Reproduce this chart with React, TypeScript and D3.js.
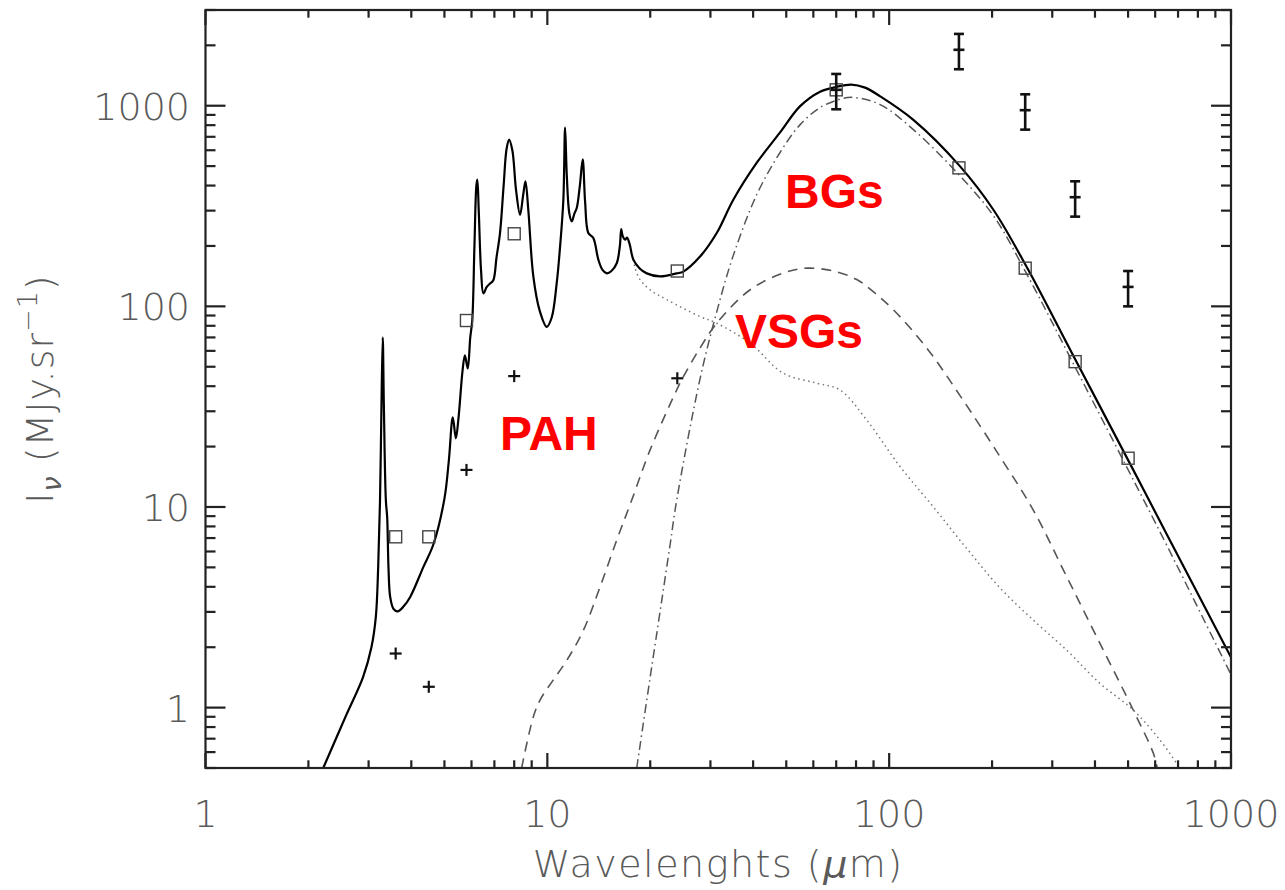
import React from "react";
import * as d3 from "d3";

// Spectral energy distribution: total model, its three dust components,
// synthetic in-band model values and observed photometry.

const totalLambda = [2.21, 2.59, 2.89, 3.06, 3.15, 3.2, 3.24, 3.27, 3.3, 3.325, 3.37, 3.4, 3.43, 3.47, 3.55, 3.65, 3.8, 3.97, 4.34, 4.64, 5.0, 5.15, 5.29, 5.4, 5.5, 5.65, 5.74, 5.85, 5.95, 6.03, 6.12, 6.2, 6.24, 6.3, 6.4, 6.5, 6.65, 6.8, 6.95, 7.1, 7.27, 7.45, 7.6, 7.73, 7.9, 8.1, 8.32, 8.5, 8.63, 8.8, 9.1, 9.5, 9.96, 10.3, 10.65, 10.9, 11.14, 11.27, 11.4, 11.6, 11.79, 12.0, 12.19, 12.45, 12.69, 12.9, 13.18, 13.63, 14.1, 14.5, 14.93, 15.4, 15.96, 16.3, 16.45, 16.6, 16.88, 17.1, 17.4, 17.85, 18.6, 19.54, 21.37, 23.9, 25.0, 27.97, 31.3, 35.0, 41.0, 47.9, 54.9, 62.8, 70.0, 77.5, 85.0, 94.1, 117.7, 161, 201.8, 252.6, 346, 506.8, 648.6, 1000];
const totalValue = [0.5, 0.93, 1.42, 2.01, 2.83, 5.0, 10.8, 30, 70, 32, 10.8, 8.9, 5.0, 3.56, 3.1, 3.02, 3.2, 3.56, 5.03, 6.5, 11, 17, 28, 22, 28, 48, 57, 49, 70, 85, 200, 400, 428, 300, 150, 116, 125, 130, 135, 175, 232, 400, 610, 678, 600, 380, 286, 360, 420, 300, 141, 95, 79, 88, 130, 200, 340, 778, 450, 290, 265, 290, 309, 400, 540, 330, 232, 219, 171, 152, 146, 150, 164, 200, 243, 225, 215, 220, 205, 171, 155, 146, 141, 146, 149, 177, 232, 340, 520, 734, 995, 1175, 1240, 1275, 1231, 1114, 850, 500, 303, 157, 56.6, 16.4, 7.32, 1.78];

const pahLambda = [17.85, 18.06, 18.67, 19.97, 22.35, 27.97, 31.3, 39.2, 49.0, 61.4, 71.8, 86.0, 107.6, 134.7, 168.7, 211, 264, 330.9, 413.6, 518.3, 620.8, 694, 710];
const pahValue = [171, 155, 136, 121, 108, 89, 82.4, 65.5, 46.4, 41.4, 38.3, 27.1, 15.9, 10.0, 6.2, 3.95, 2.73, 1.93, 1.32, 0.97, 0.687, 0.525, 0.49];

const vsgLambda = [8.41, 9.1, 9.52, 10.4, 11.4, 12.75, 14.27, 15.96, 17.65, 19.97, 23.9, 25.0, 27.97, 31.3, 39.2, 49.0, 57.4, 68.7, 80.4, 90, 103, 128.8, 161, 211, 264, 330.9, 413.6, 518, 593, 608];
const vsgValue = [0.5, 0.9, 1.09, 1.37, 1.72, 2.43, 4.0, 6.84, 10.8, 19.2, 38.3, 44.6, 62, 82.4, 121, 146.5, 155, 150, 136, 118, 96, 62, 36, 17.8, 9.65, 4.48, 2.09, 0.97, 0.59, 0.5];

const bgLambda = [18.26, 19.97, 21.37, 22.86, 23.9, 27.97, 31.3, 35.0, 41.0, 47.9, 54.9, 62.8, 71.9, 78.4, 94.1, 117.7, 156.9, 201.8, 252.6, 346, 495.5, 648.6, 1000];
const bgValue = [0.5, 1.4, 3.01, 6.48, 10.8, 43.5, 93.9, 179.5, 361, 583, 805, 979, 1078, 1100, 1013, 760, 469, 283, 145, 51.7, 15.8, 6.45, 1.46];

// Model brightness integrated in the instrument bands (open squares)
const bandLambda = [3.6, 4.5, 5.8, 8, 24, 70, 160, 250, 350, 500];
const bandModel = [7.1, 7.1, 85, 230, 150, 1200, 490, 155, 53, 17.5];

// Photometry without error bars (plus signs)
const photLambda = [3.6, 4.5, 5.8, 8, 24];
const photValue = [1.86, 1.27, 15.3, 44.9, 43.8];

// Far-infrared photometry with 20% uncertainties
const obsLambda = [70, 160, 250, 350, 500];
const obsValue = [1200, 1900, 950, 350, 125];
const obsError = [240, 380, 190, 70, 25];

const xTickLabels = ["1", "10", "100", "1000"];
const yTickLabels = ["1", "10", "100", "1000"];

const componentLabels = [
  { text: "PAH", lambda: 7.27, value: 19.2 },
  { text: "VSGs", lambda: 35.4, value: 62 },
  { text: "BGs", lambda: 49.6, value: 310 },
];

const W = 1285;
const H = 890;
const left = 205.5;
const right = 1231;
const top = 10;
const bottom = 768;

const axisFont = "'DejaVu Sans', sans-serif";
const axisColor = "#5a5a5a";

export default function App() {
  const x = d3.scaleLog().domain([1, 1000]).range([left, right]);
  const y = d3.scaleLog().domain([0.5, 3000]).range([bottom, top]);

  const line = d3
    .line<[number, number]>()
    .x((d) => x(d[0]))
    .y((d) => y(d[1]))
    .curve(d3.curveCatmullRom.alpha(0.5));

  const zip = (a: number[], b: number[]) => a.map((v, i) => [v, b[i]] as [number, number]);

  const xTicks = x.ticks();
  const yTicks = y.ticks();
  const isMajor = (v: number) => Math.abs(Math.log10(v) - Math.round(Math.log10(v))) < 1e-9;

  const sq = 12;
  const plus = 6;
  const cap = 5;

  return (
    <svg
      width={W}
      height={H}
      style={{ position: "absolute", left: 0, top: 0, background: "#fff" }}
      fontFamily={axisFont}
    >
      <defs>
        <clipPath id="plot-area">
          <rect x={left} y={top} width={right - left} height={bottom - top} />
        </clipPath>
      </defs>

      {/* component curves */}
      <g clipPath="url(#plot-area)" fill="none">
        <path d={line(zip(pahLambda, pahValue)) || ""} stroke="#777" strokeWidth={1.5} strokeDasharray="1.5 3.5" />
        <path d={line(zip(vsgLambda, vsgValue)) || ""} stroke="#555" strokeWidth={1.6} strokeDasharray="10 7" />
        <path d={line(zip(bgLambda, bgValue)) || ""} stroke="#555" strokeWidth={1.5} strokeDasharray="9 4 1.5 4" />
        <path d={line(zip(totalLambda, totalValue)) || ""} stroke="#000" strokeWidth={2.2} strokeLinejoin="round" />
      </g>

      {/* in-band model values */}
      <g fill="none" stroke="#444" strokeWidth={1.4}>
        {bandLambda.map((l, i) => (
          <rect key={i} x={x(l) - sq / 2} y={y(bandModel[i]) - sq / 2} width={sq} height={sq} />
        ))}
      </g>

      {/* photometry */}
      <g stroke="#111" strokeWidth={2.2}>
        {photLambda.map((l, i) => (
          <g key={i}>
            <line x1={x(l) - plus} x2={x(l) + plus} y1={y(photValue[i])} y2={y(photValue[i])} />
            <line x1={x(l)} x2={x(l)} y1={y(photValue[i]) - plus} y2={y(photValue[i]) + plus} />
          </g>
        ))}
        {obsLambda.map((l, i) => {
          const cx = x(l);
          const hi = y(obsValue[i] + obsError[i]);
          const lo = y(obsValue[i] - obsError[i]);
          const c = y(obsValue[i]);
          return (
            <g key={i} strokeWidth={2.6}>
              <line x1={cx} x2={cx} y1={hi} y2={lo} />
              <line x1={cx - cap} x2={cx + cap} y1={hi} y2={hi} />
              <line x1={cx - cap} x2={cx + cap} y1={lo} y2={lo} />
              <line x1={cx - cap - 0.5} x2={cx + cap + 0.5} y1={c} y2={c} />
            </g>
          );
        })}
      </g>

      {/* frame and ticks */}
      <g stroke="#222" strokeWidth={2.2} fill="none">
        <rect x={left} y={top} width={right - left} height={bottom - top} />
        {xTicks.map((t, i) => {
          const len = isMajor(t) ? 15 : 7.7;
          return (
            <g key={i}>
              <line x1={x(t)} x2={x(t)} y1={bottom} y2={bottom - len} />
              <line x1={x(t)} x2={x(t)} y1={top} y2={top + len} />
            </g>
          );
        })}
        {yTicks.map((t, i) => {
          const len = isMajor(t) ? 20 : 10;
          return (
            <g key={i}>
              <line x1={left} x2={left + len} y1={y(t)} y2={y(t)} />
              <line x1={right} x2={right - len} y1={y(t)} y2={y(t)} />
            </g>
          );
        })}
      </g>

      {/* tick labels */}
      <g fill={axisColor} fontSize={38} fontWeight={200}>
        {xTickLabels.map((s) => (
          <text key={s} x={x(+s)} y={827} textAnchor="middle">
            {s}
          </text>
        ))}
        {yTickLabels.map((s) => (
          <text key={s} x={190} y={y(+s) + 14} textAnchor="end">
            {s}
          </text>
        ))}
      </g>

      {/* axis titles */}
      <text
        x={(left + right) / 2}
        y={877}
        textAnchor="middle"
        fill={axisColor}
        fontSize={38}
        fontWeight={200}
        letterSpacing={1.5}
      >
        Wavelenghts (<tspan fontStyle="italic">μ</tspan>m)
      </text>
      <text
        transform={`translate(53, ${(top + bottom) / 2}) rotate(-90)`}
        textAnchor="middle"
        fill={axisColor}
        fontSize={38}
        fontWeight={200}
        letterSpacing={1}
      >
        I
        <tspan fontSize={27} dy={8} fontStyle="italic">ν</tspan>
        <tspan dy={-8}> (MJy.sr</tspan>
        <tspan fontSize={27} dy={-16}>−1</tspan>
        <tspan dy={16}>)</tspan>
      </text>

      {/* component labels */}
      <g fill="#ff0000" fontFamily="'Liberation Sans', Arial, sans-serif" fontWeight="bold" fontSize={48}>
        {componentLabels.map((c) => (
          <text key={c.text} x={x(c.lambda)} y={y(c.value)}>
            {c.text}
          </text>
        ))}
      </g>
    </svg>
  );
}
